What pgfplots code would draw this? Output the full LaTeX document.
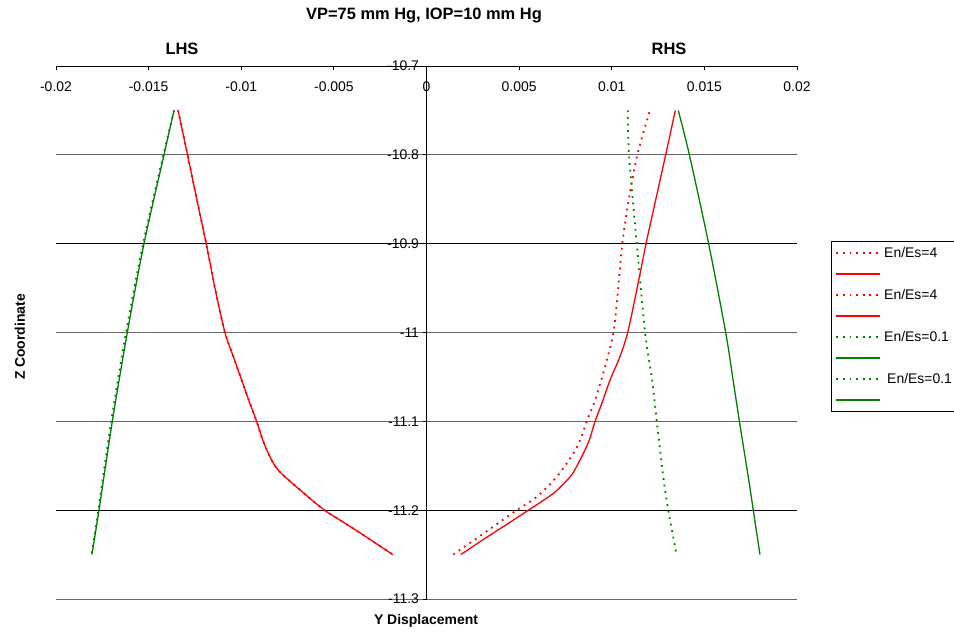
\documentclass[border=0pt]{standalone}
\usepackage{fontspec}
\setmainfont{Liberation Sans}
\usepackage{pgfplots}
\pgfplotsset{compat=1.18}
\definecolor{xlred}{RGB}{255,0,0}
\definecolor{xlgreen}{RGB}{0,128,0}
\begin{document}
\begin{tikzpicture}[x=1bp,y=1bp]
\useasboundingbox (0,0) rectangle (954,634);
\begin{axis}[
 at={(56bp,35bp)}, anchor=south west,
 width=741bp, height=533bp, scale only axis,
 xmin=-0.02, xmax=0.02, ymin=-11.3, ymax=-10.7,
 axis x line=top, axis y line=middle,
 hide obscured y ticks=false, hide obscured x ticks=false,
 scaled x ticks=false, scaled y ticks=false,
 axis line style={-, line width=0.9bp, black},
 every inner y axis line/.append style={-},
 every outer x axis line/.append style={-},
 xtick={-0.02,-0.015,-0.01,-0.005,0,0.005,0.01,0.015,0.02},
 xticklabels={-0.02,-0.015,-0.01,-0.005,0,0.005,0.01,0.015,0.02},
 ytick={-11.3,-11.2,-11.1,-11,-10.9,-10.8,-10.7},
 yticklabels={-11.3,-11.2,-11.1,-11,-10.9,-10.8,-10.7},
 xticklabel style={anchor=center, yshift=-21bp, font=\fontsize{14}{16}\selectfont},
 yticklabel style={anchor=east, font=\fontsize{14}{16}\selectfont},
 ymajorgrids, major grid style={black!60, line width=0.9bp},
 extra y ticks={-10.9,-11.2}, extra y tick labels={},
 extra y tick style={ymajorgrids=true, major grid style={black, line width=0.9bp}, major tick length=0pt},
 xtick align=inside, ytick align=outside, major tick length=4bp,
 tick style={black, line width=0.8bp},
 legend style={at={(axis description cs:1.0459,0.6717)}, anchor=north west,
   draw=black, line width=0.8bp, font=\fontsize{14}{16}\selectfont,
   inner xsep=4bp, inner ysep=1bp, row sep=0bp,
   nodes={inner sep=0bp, minimum height=21bp},
   /tikz/every odd column/.append style={column sep=3bp}},
 legend cell align=left,
 legend image code/.code={\draw[#1] (0bp,0bp) -- (44bp,0bp);},
 dots/.style={line width=1.8bp, dash pattern=on 1.8bp off 4.8bp},
]
% 1 LHS red dotted
\addplot[xlred, dots, smooth] coordinates {
(-0.01341,-10.75) (-0.01290,-10.80) (-0.01240,-10.85) (-0.01189,-10.90)
(-0.01140,-10.952) (-0.01088,-11.0) (-0.01043,-11.027) (-0.00998,-11.0535)
(-0.00953,-11.08) (-0.00917,-11.10) (-0.00884,-11.121) (-0.00845,-11.14)
(-0.00800,-11.155) (-0.00701,-11.174) (-0.00557,-11.199) (-0.00449,-11.2135)
(-0.00341,-11.228) (-0.00182,-11.25)};
\addlegendentry{\makebox[80bp][l]{En/Es=4}}
% 2 LHS red solid
\addplot[xlred, line width=1.3bp, smooth] coordinates {
(-0.01341,-10.75) (-0.01290,-10.80) (-0.01240,-10.85) (-0.01189,-10.90)
(-0.01140,-10.952) (-0.01088,-11.0) (-0.01043,-11.027) (-0.00998,-11.0535)
(-0.00953,-11.08) (-0.00917,-11.10) (-0.00884,-11.121) (-0.00845,-11.14)
(-0.00800,-11.155) (-0.00701,-11.174) (-0.00557,-11.199) (-0.00449,-11.2135)
(-0.00341,-11.228) (-0.00182,-11.25)};
\addlegendentry{\mbox{}}
% 3 RHS red dotted
\addplot[xlred, dots, smooth] coordinates {
(0.01203,-10.752) (0.01138,-10.80) (0.01092,-10.85) (0.01057,-10.90)
(0.01032,-10.956) (0.01009,-11.0) (0.00964,-11.0385) (0.00910,-11.076)
(0.00865,-11.10) (0.00829,-11.121) (0.00793,-11.136) (0.00703,-11.1625)
(0.00595,-11.185) (0.00487,-11.20) (0.00390,-11.2142) (0.00289,-11.229)
(0.00145,-11.25)};
\addlegendentry{En/Es=4}
% 4 RHS red solid
\addplot[xlred, line width=1.3bp, smooth] coordinates {
(0.01343,-10.75) (0.01291,-10.80) (0.01238,-10.85) (0.01185,-10.90)
(0.01135,-10.952) (0.01086,-11.0) (0.010445,-11.027) (0.00991,-11.0535)
(0.00946,-11.08) (0.00910,-11.10) (0.00879,-11.121) (0.00847,-11.136)
(0.00810,-11.151) (0.00775,-11.1625) (0.00685,-11.181) (0.00550,-11.20)
(0.00440,-11.2151) (0.00325,-11.2305) (0.00185,-11.25)};
\addlegendentry{\mbox{}}
% 5 LHS green dotted
\addplot[xlgreen, dots, smooth] coordinates {
(-0.01363,-10.75) (-0.01420,-10.80) (-0.01530,-10.90) (-0.01622,-11.00)
(-0.01702,-11.10) (-0.01772,-11.20) (-0.01808,-11.25)};
\addlegendentry{En/Es=0.1}
% 6 LHS green solid
\addplot[xlgreen, line width=1.3bp, smooth] coordinates {
(-0.01363,-10.75) (-0.01417,-10.80) (-0.01525,-10.90) (-0.01615,-11.00)
(-0.01696,-11.10) (-0.01768,-11.20) (-0.01806,-11.25)};
\addlegendentry{\mbox{}}
% 7 RHS green dotted
\addplot[xlgreen, dots, smooth] coordinates {
(0.01086,-10.75) (0.01093,-10.80) (0.01135,-10.90) (0.01180,-11.00)
(0.01219,-11.055) (0.01243,-11.10) (0.01278,-11.1625) (0.01305,-11.20)
(0.01350,-11.25)};
\addlegendentry{\hspace{3bp}En/Es=0.1}
% 8 RHS green solid
\addplot[xlgreen, line width=1.3bp, smooth] coordinates {
(0.01359,-10.75) (0.01419,-10.80) (0.01523,-10.90) (0.01615,-11.00)
(0.01656,-11.055) (0.01689,-11.10) (0.01735,-11.16) (0.01764,-11.20)
(0.01800,-11.25)};
\addlegendentry{\mbox{}}
\end{axis}
\node[font=\bfseries\fontsize{16.5}{18}\selectfont] at (424,618) {VP=75 mm Hg, IOP=10 mm Hg};
\node[font=\bfseries\fontsize{16.5}{18}\selectfont] at (182,585) {LHS};
\node[font=\bfseries\fontsize{16.5}{18}\selectfont] at (669,585) {RHS};
\node[font=\bfseries\fontsize{14}{16}\selectfont, rotate=90] at (20,297) {Z Coordinate};
\node[font=\bfseries\fontsize{14}{16}\selectfont] at (426,13) {Y Displacement};
\end{tikzpicture}
\end{document}
